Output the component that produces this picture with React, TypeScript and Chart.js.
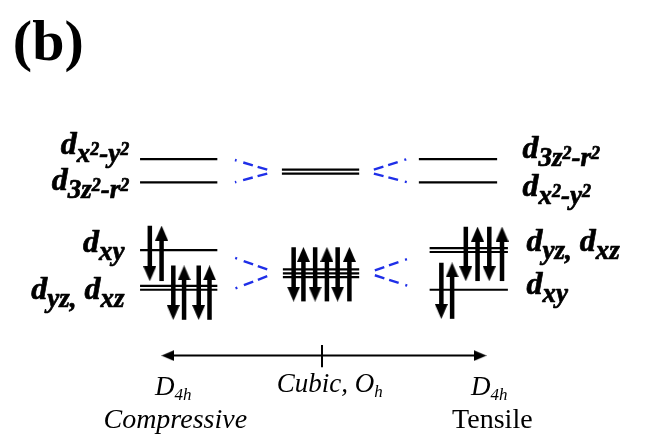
import React, { useEffect, useRef } from "react";
import { Chart, registerables } from "chart.js";

Chart.register(...registerables);

const SERIF = '"Liberation Serif", "Times New Roman", Times, serif';
const BLUE = "#1f2fe8";

// Energy levels: [xStart, xEnd, energy] (energy axis drawn top = high)
const compressiveLevels: number[][] = [
  [136, 215, 157],
  [136, 215, 181],
  [136, 215, 251],
  [136, 215, 288],
  [136, 215, 292],
];
const cubicLevels: number[][] = [
  [281, 360, 168],
  [281, 360, 172],
  [282, 360, 271],
  [282, 360, 275],
  [282, 360, 279],
];
const tensileLevels: number[][] = [
  [421, 501, 157],
  [421, 501, 181],
  [432, 512, 249],
  [432, 512, 253],
  [432, 512, 292],
];

// Spins: [x, direction (1 up, -1 down), top, bottom]
const compressiveSpins: number[][] = [
  [146, -1, 226, 283],
  [158, 1, 226, 283],
  [170, -1, 267, 323],
  [181, 1, 267, 323],
  [196, -1, 267, 323],
  [207, 1, 267, 323],
];
const cubicSpins: number[][] = [
  [293, -1, 248, 304],
  [303, 1, 248, 304],
  [315, -1, 248, 304],
  [327, 1, 248, 304],
  [338, -1, 248, 304],
  [350, 1, 248, 304],
];
const tensileSpins: number[][] = [
  [469, -1, 227, 283],
  [481, 1, 227, 283],
  [493, -1, 227, 283],
  [506, 1, 227, 283],
  [444, -1, 264, 322],
  [455, 1, 264, 322],
];

// Blue dashed correlation lines: [xInner, yInner, xOuter, yOuter]
const connectors: number[][] = [
  [266, 168, 233, 158],
  [266, 172, 233, 181],
  [266, 271, 230, 258],
  [266, 278, 230, 292],
  [375, 168, 409, 157],
  [375, 172, 409, 181],
  [376, 272, 410, 260],
  [376, 277, 410, 288],
];

// Strain axis
const axisEnds = [158, 490];
const axisLevel = 360;
const axisTickX = 322;
const axisTickSpan = [349, 372];

type Part = [string, string];

const leftLabels: Part[][] = [
  [["d", "m"], ["x", "s"], ["2", "p"], ["-y", "s"], ["2", "p"]],
  [["d", "m"], ["3z", "s"], ["2", "p"], ["-r", "s"], ["2", "p"]],
  [["d", "m"], ["xy", "s"]],
  [["d", "m"], ["yz,", "s"], [" d", "m"], ["xz", "s"]],
];
const leftLabelPos: number[][] = [
  [125, 152],
  [125, 189],
  [120, 253],
  [120, 302],
];
const rightLabels: Part[][] = [
  [["d", "m"], ["3z", "s"], ["2", "p"], ["-r", "s"], ["2", "p"]],
  [["d", "m"], ["x", "s"], ["2", "p"], ["-y", "s"], ["2", "p"]],
  [["d", "m"], ["yz,", "s"], [" d", "m"], ["xz", "s"]],
  [["d", "m"], ["xy", "s"]],
];
const rightLabelPos: number[][] = [
  [527, 156],
  [527, 195],
  [531, 252],
  [531, 296],
];

const symmetryLabels: Part[][] = [
  [["D", "m"], ["4h", "s"]],
  [["Cubic, O", "m"], ["h", "s"]],
  [["D", "m"], ["4h", "s"]],
];
const symmetryPos: number[][] = [
  [170, 401],
  [330, 398],
  [493, 401],
];
const strainLabels = ["Compressive", "Tensile"];
const strainPos: number[][] = [
  [172, 435],
  [455, 435],
];
const panelLabel = "(b)";

const orbitalFonts: Record<string, string> = {
  m: `bold italic 32px ${SERIF}`,
  s: `bold italic 27px ${SERIF}`,
  p: `bold italic 18px ${SERIF}`,
};
const orbitalOffsets: Record<string, number> = { m: 0, s: 8, p: 1 };
const symFonts: Record<string, string> = {
  m: `italic 27px ${SERIF}`,
  s: `italic 17px ${SERIF}`,
};
const symOffsets: Record<string, number> = { m: 0, s: 5 };

function drawRich(
  ctx: CanvasRenderingContext2D,
  parts: Part[],
  px: number,
  py: number,
  align: string,
  fonts: Record<string, string>,
  offs: Record<string, number>,
  stroke: number
) {
  const widths = parts.map(([t, k]) => {
    ctx.font = fonts[k];
    return ctx.measureText(t).width;
  });
  const total = widths.reduce((a, b) => a + b, 0);
  let cx = align === "left" ? px : align === "right" ? px - total : px - total / 2;
  parts.forEach(([t, k], i) => {
    ctx.font = fonts[k];
    ctx.fillText(t, cx, py + offs[k]);
    if (stroke > 0) {
      ctx.lineWidth = stroke;
      ctx.strokeText(t, cx, py + offs[k]);
    }
    cx += widths[i];
  });
}

function makeHead(w: number, h: number) {
  const c = document.createElement("canvas");
  c.width = w;
  c.height = h;
  const g = c.getContext("2d")!;
  g.fillStyle = "#000";
  g.beginPath();
  g.moveTo(w / 2, 0);
  g.lineTo(w, h);
  g.lineTo(0, h);
  g.closePath();
  g.fill();
  return c;
}

const textPlugin = {
  id: "diagramText",
  afterDraw(chart: any) {
    const ctx: CanvasRenderingContext2D = chart.ctx;
    const xs = chart.scales.x;
    const ys = chart.scales.y;
    const X = (v: number) => xs.getPixelForValue(v);
    const Y = (v: number) => ys.getPixelForValue(v);
    ctx.save();
    ctx.fillStyle = "#000";
    ctx.strokeStyle = "#000";
    ctx.lineJoin = "round";
    ctx.textBaseline = "alphabetic";
    leftLabels.forEach((p, i) =>
      drawRich(ctx, p, X(leftLabelPos[i][0]), Y(leftLabelPos[i][1]), "right", orbitalFonts, orbitalOffsets, 0.7)
    );
    rightLabels.forEach((p, i) =>
      drawRich(ctx, p, X(rightLabelPos[i][0]), Y(rightLabelPos[i][1]), "left", orbitalFonts, orbitalOffsets, 0.7)
    );
    symmetryLabels.forEach((p, i) =>
      drawRich(ctx, p, X(symmetryPos[i][0]), Y(symmetryPos[i][1]), "center", symFonts, symOffsets, 0)
    );
    ctx.font = `italic 28px ${SERIF}`;
    ctx.textAlign = "center";
    ctx.fillText(strainLabels[0], X(strainPos[0][0]), Y(strainPos[0][1]));
    ctx.font = `28px ${SERIF}`;
    ctx.textAlign = "left";
    ctx.fillText(strainLabels[1], X(strainPos[1][0]), Y(strainPos[1][1]));
    ctx.font = `bold 58px ${SERIF}`;
    ctx.fillText(panelLabel, X(6), Y(55));
    ctx.restore();
  },
};

export default function App() {
  const ref = useRef<HTMLCanvasElement>(null);
  useEffect(() => {
    if (!ref.current) return;
    const HEAD_W = 13;
    const HEAD_H = 15;
    const spinHead = makeHead(HEAD_W, HEAD_H);
    const axisHead = makeHead(11, 13);
    const datasets: any[] = [];

    const line = (pts: { x: number; y: number }[], extra: any = {}) => ({
      type: "scatter",
      data: pts,
      showLine: true,
      borderColor: "#000",
      backgroundColor: "#000",
      borderWidth: 2,
      pointRadius: 0,
      fill: false,
      tension: 0,
      ...extra,
    });

    [...compressiveLevels, ...cubicLevels, ...tensileLevels].forEach(([x0, x1, e]) =>
      datasets.push(line([{ x: x0, y: e }, { x: x1, y: e }], { borderWidth: 2.2 }))
    );

    const headPts: { x: number; y: number }[] = [];
    const headRot: number[] = [];
    [...compressiveSpins, ...cubicSpins, ...tensileSpins].forEach(([x, dir, top, bottom]) => {
      if (dir > 0) {
        datasets.push(line([{ x, y: bottom }, { x, y: top + HEAD_H - 2 }], { borderWidth: 4.5 }));
        headPts.push({ x, y: top + HEAD_H / 2 });
        headRot.push(0);
      } else {
        datasets.push(line([{ x, y: top }, { x, y: bottom - HEAD_H + 2 }], { borderWidth: 4.5 }));
        headPts.push({ x, y: bottom - HEAD_H / 2 });
        headRot.push(180);
      }
    });
    datasets.push({
      type: "scatter",
      data: headPts,
      showLine: false,
      pointStyle: spinHead,
      pointRadius: 6,
      pointRotation: headRot,
    });

    connectors.forEach(([xi, yi, xo, yo]) =>
      datasets.push(
        line([{ x: xi, y: yi }, { x: xo, y: yo }], {
          borderColor: BLUE,
          borderWidth: 2.4,
          borderDash: [10, 5, 10, 7, 2, 30],
        })
      )
    );

    datasets.push(line([{ x: axisEnds[0] + 6, y: axisLevel }, { x: axisEnds[1] - 6, y: axisLevel }], { borderWidth: 2 }));
    datasets.push(line([{ x: axisTickX, y: axisTickSpan[0] }, { x: axisTickX, y: axisTickSpan[1] }], { borderWidth: 2 }));
    datasets.push({
      type: "scatter",
      data: [
        { x: axisEnds[0] + 6.5, y: axisLevel },
        { x: axisEnds[1] - 6.5, y: axisLevel },
      ],
      showLine: false,
      pointStyle: axisHead,
      pointRadius: 6,
      pointRotation: [270, 90],
    });

    const chart = new Chart(ref.current, {
      type: "scatter",
      data: { datasets },
      options: {
        responsive: false,
        animation: false,
        events: [],
        layout: { padding: 0 },
        scales: {
          x: { type: "linear", min: 0, max: 645, display: false },
          y: { type: "linear", min: 0, max: 443, reverse: true, display: false },
        },
        plugins: { legend: { display: false }, tooltip: { enabled: false } },
      } as any,
      plugins: [textPlugin],
    } as any);
    return () => chart.destroy();
  }, []);
  return (
    <canvas
      ref={ref}
      width={645}
      height={443}
      style={{ position: "fixed", left: 0, top: 0, width: 645, height: 443, background: "#fff" }}
    />
  );
}
